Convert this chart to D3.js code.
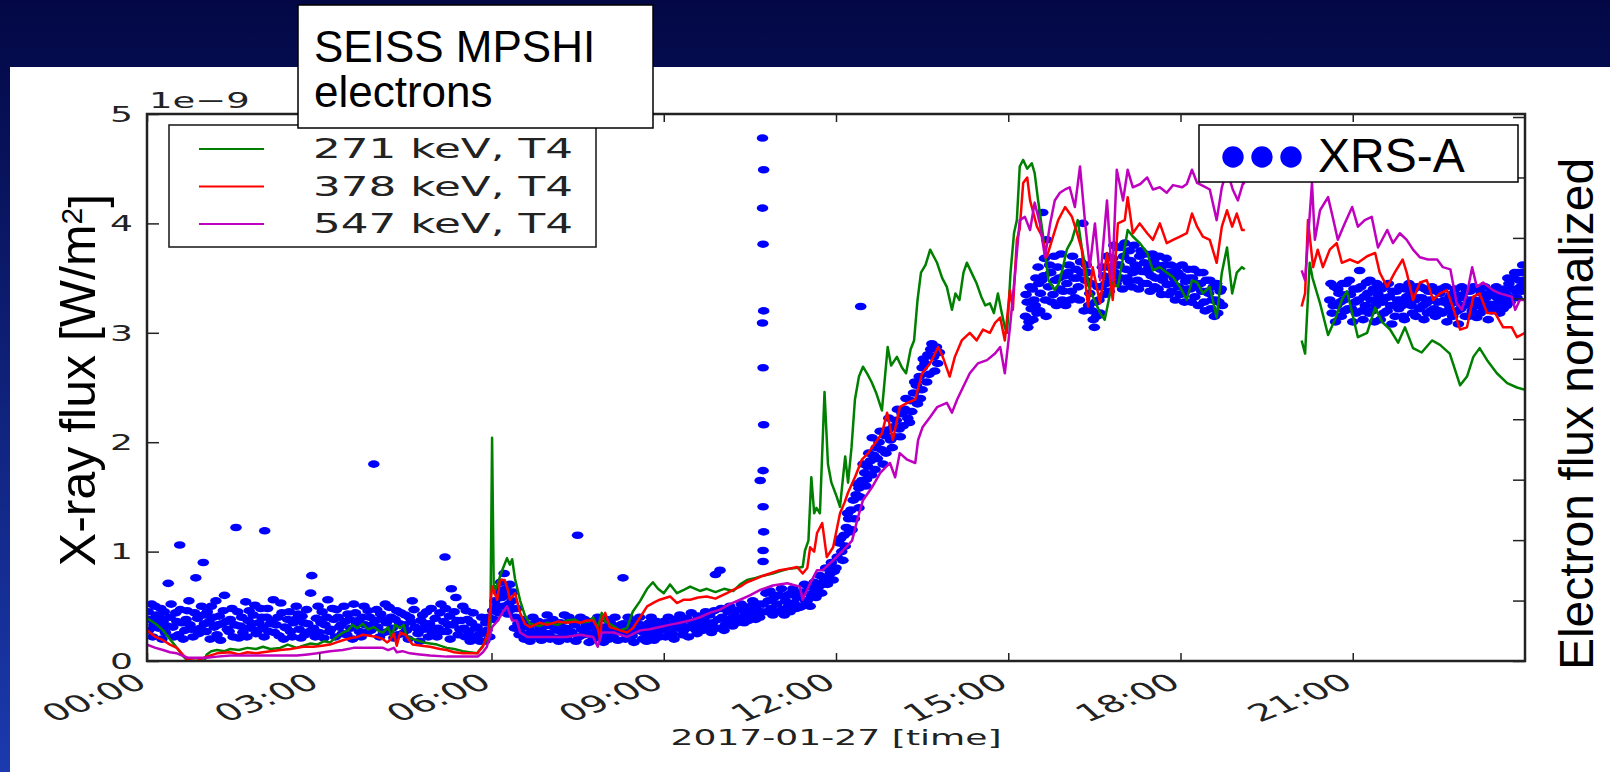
<!DOCTYPE html>
<html>
<head>
<meta charset="utf-8">
<script src="https://cdn.jsdelivr.net/npm/d3@7/dist/d3.min.js"></script>
<style>
  html, body { margin: 0; padding: 0; overflow: hidden; background: #fff; }
  svg { display: block; }
  .mpl { font-family: "DejaVu Sans", sans-serif; fill: #222; }
  .slide { font-family: "Liberation Sans", Arial, sans-serif; fill: #000; }
</style>
</head>
<body>
<div id="graf"></div>
<script>
// ---- data (hours since 00:00, flux in 1e-9 W/m2) ----
const xTicks = [0, 3, 6, 9, 12, 15, 18, 21];
const xTickLabels = ["00:00", "03:00", "06:00", "09:00", "12:00", "15:00", "18:00", "21:00"];
const yTicks = [0, 1, 2, 3, 4, 5];
const rightTicks = [0, 1, 2, 3, 4, 5, 6, 7, 8, 9];

const seriesNames = ["271 keV, T4", "378 keV, T4", "547 keV, T4"];
const seriesColors = ["#008000", "#ff0000", "#bf00bf"];

const green271 = [[0.00,0.39],[0.15,0.34],[0.28,0.28],[0.40,0.20],[0.52,0.12],[0.62,0.05],[0.71,0.0],[0.87,0.0],[1.0,0.0],[1.04,0.06],[1.12,0.09],[1.22,0.10],[1.35,0.09],[1.45,0.11],[1.6,0.10],[1.75,0.12],[1.9,0.11],[2.02,0.13],[2.15,0.11],[2.32,0.12],[2.45,0.15],[2.61,0.12],[2.72,0.14],[2.85,0.16],[2.96,0.15],[3.08,0.18],[3.19,0.17],[3.3,0.22],[3.41,0.26],[3.5,0.28],[3.58,0.33],[3.66,0.30],[3.76,0.34],[3.85,0.29],[3.95,0.31],[4.05,0.27],[4.11,0.26],[4.2,0.31],[4.26,0.22],[4.32,0.33],[4.41,0.30],[4.47,0.33],[4.52,0.23],[4.58,0.21],[4.7,0.19],[4.82,0.17],[4.93,0.16],[5.05,0.15],[5.22,0.12],[5.35,0.11],[5.5,0.09],[5.62,0.08],[5.75,0.07],[5.85,0.14],[5.92,0.20],[5.98,0.30],[6.01,2.04],[6.04,0.62],[6.1,0.70],[6.18,0.82],[6.27,0.94],[6.32,0.88],[6.36,0.93],[6.41,0.75],[6.5,0.55],[6.58,0.42],[6.67,0.34],[6.84,0.32],[6.97,0.35],[7.15,0.33],[7.31,0.37],[7.45,0.38],[7.54,0.35],[7.7,0.36],[7.77,0.40],[7.85,0.30],[7.92,0.44],[7.98,0.36],[8.06,0.34],[8.24,0.28],[8.36,0.30],[8.46,0.45],[8.59,0.55],[8.71,0.66],[8.81,0.72],[8.9,0.66],[9.0,0.62],[9.11,0.70],[9.23,0.62],[9.35,0.65],[9.46,0.68],[9.63,0.64],[9.75,0.66],[9.9,0.63],[10.05,0.66],[10.21,0.64],[10.33,0.70],[10.45,0.74],[10.6,0.76],[10.73,0.78],[10.9,0.80],[11.02,0.82],[11.15,0.84],[11.3,0.85],[11.42,0.86],[11.46,1.01],[11.52,1.10],[11.57,1.68],[11.62,1.35],[11.66,1.40],[11.72,1.35],[11.8,2.46],[11.86,1.80],[11.92,1.63],[12.0,1.52],[12.07,1.41],[12.16,1.87],[12.21,1.63],[12.27,1.95],[12.33,2.39],[12.4,2.6],[12.47,2.69],[12.55,2.62],[12.62,2.55],[12.7,2.45],[12.8,2.29],[12.9,2.87],[12.96,2.70],[13.06,2.78],[13.15,2.68],[13.22,2.63],[13.3,2.85],[13.36,2.93],[13.42,3.30],[13.48,3.55],[13.56,3.62],[13.64,3.76],[13.7,3.70],[13.76,3.64],[13.85,3.5],[13.93,3.42],[14.02,3.21],[14.08,3.36],[14.15,3.30],[14.22,3.55],[14.28,3.64],[14.36,3.55],[14.45,3.45],[14.53,3.33],[14.6,3.25],[14.68,3.27],[14.75,3.18],[14.82,3.36],[14.88,3.20],[14.94,3.05],[14.98,3.00],[15.04,3.55],[15.1,3.91],[15.15,4.03],[15.2,4.52],[15.26,4.58],[15.33,4.50],[15.41,4.55],[15.46,4.46],[15.52,4.21],[15.6,3.91],[15.7,3.48],[15.81,3.39],[15.88,3.45],[15.94,3.57],[16.02,3.76],[16.11,3.85],[16.21,4.03],[16.28,3.78],[16.36,3.55],[16.42,3.39],[16.5,3.30],[16.6,3.18],[16.68,3.12],[16.75,3.30],[16.81,3.46],[16.91,3.42],[17.0,3.69],[17.08,3.94],[17.17,3.88],[17.29,3.82],[17.42,3.73],[17.52,3.57],[17.64,3.60],[17.76,3.55],[17.87,3.51],[17.99,3.42],[18.11,3.30],[18.2,3.48],[18.29,3.46],[18.39,3.36],[18.51,3.42],[18.63,3.14],[18.72,3.55],[18.81,3.78],[18.9,3.36],[18.98,3.55],[19.07,3.60],[19.12,3.58],null,[20.11,2.93],[20.17,2.81],[20.25,3.64],[20.3,3.5],[20.43,3.27],[20.57,2.98],[20.69,3.12],[20.81,3.30],[20.9,3.38],[20.99,3.18],[21.09,2.96],[21.25,3.0],[21.39,3.23],[21.51,3.10],[21.65,3.03],[21.79,2.91],[21.91,3.05],[22.05,2.86],[22.2,2.82],[22.38,2.93],[22.52,2.89],[22.69,2.81],[22.87,2.52],[22.99,2.60],[23.1,2.78],[23.21,2.86],[23.34,2.75],[23.51,2.63],[23.69,2.54],[23.86,2.50],[24.0,2.48]];

const red378 = [[0.0,0.28],[0.15,0.22],[0.28,0.19],[0.4,0.15],[0.52,0.12],[0.62,0.06],[0.71,0.01],[0.87,0.0],[1.04,0.04],[1.22,0.07],[1.45,0.08],[1.6,0.06],[1.75,0.08],[1.9,0.07],[2.02,0.08],[2.15,0.09],[2.32,0.10],[2.5,0.11],[2.72,0.13],[2.9,0.13],[3.05,0.14],[3.19,0.15],[3.3,0.17],[3.41,0.19],[3.55,0.21],[3.66,0.22],[3.76,0.24],[3.88,0.23],[4.0,0.22],[4.11,0.20],[4.18,0.17],[4.23,0.19],[4.3,0.25],[4.35,0.14],[4.41,0.26],[4.5,0.24],[4.58,0.18],[4.63,0.15],[4.78,0.14],[4.93,0.13],[5.1,0.11],[5.22,0.10],[5.35,0.08],[5.5,0.07],[5.62,0.07],[5.75,0.07],[5.85,0.13],[5.94,0.26],[6.01,0.68],[6.1,0.56],[6.15,0.74],[6.23,0.74],[6.28,0.66],[6.32,0.56],[6.41,0.62],[6.5,0.44],[6.58,0.34],[6.67,0.31],[6.84,0.35],[6.97,0.33],[7.15,0.36],[7.31,0.35],[7.45,0.36],[7.54,0.35],[7.66,0.37],[7.77,0.37],[7.85,0.30],[7.89,0.19],[7.92,0.38],[7.98,0.44],[8.06,0.31],[8.24,0.28],[8.36,0.26],[8.46,0.30],[8.59,0.40],[8.71,0.50],[8.85,0.54],[8.93,0.56],[9.11,0.59],[9.23,0.53],[9.35,0.56],[9.46,0.56],[9.6,0.58],[9.75,0.59],[9.9,0.57],[9.98,0.59],[10.1,0.62],[10.21,0.65],[10.33,0.68],[10.45,0.72],[10.6,0.75],[10.68,0.77],[10.85,0.80],[11.02,0.83],[11.15,0.84],[11.32,0.86],[11.42,0.80],[11.5,0.85],[11.55,1.04],[11.62,1.00],[11.67,1.17],[11.76,1.26],[11.84,0.95],[11.95,1.04],[12.07,1.35],[12.15,1.45],[12.21,1.54],[12.33,1.68],[12.45,1.84],[12.56,1.90],[12.68,1.99],[12.8,2.08],[12.89,2.27],[12.99,2.02],[13.11,2.32],[13.24,2.36],[13.38,2.39],[13.5,2.63],[13.64,2.72],[13.78,2.87],[13.86,2.78],[13.98,2.60],[14.07,2.78],[14.19,2.93],[14.33,3.00],[14.45,2.93],[14.56,3.03],[14.68,3.00],[14.77,3.09],[14.86,3.14],[14.94,2.93],[15.03,3.39],[15.08,3.21],[15.15,3.85],[15.2,3.95],[15.26,4.37],[15.33,4.42],[15.38,4.21],[15.5,3.97],[15.59,3.88],[15.67,3.69],[15.78,3.88],[15.87,4.03],[15.99,4.15],[16.11,4.06],[16.2,3.91],[16.28,3.76],[16.39,3.24],[16.47,3.60],[16.6,3.27],[16.72,3.73],[16.82,3.30],[16.91,4.00],[17.03,4.03],[17.08,4.24],[17.17,3.91],[17.29,4.00],[17.42,3.91],[17.52,3.85],[17.64,4.00],[17.76,3.82],[17.87,3.85],[17.99,3.88],[18.11,3.91],[18.2,4.09],[18.29,3.97],[18.39,3.88],[18.51,3.85],[18.63,3.64],[18.72,3.97],[18.81,4.12],[18.9,3.97],[18.98,4.09],[19.07,3.94],[19.12,3.94],null,[20.11,3.24],[20.17,3.36],[20.22,4.03],[20.31,3.60],[20.39,3.76],[20.48,3.60],[20.6,3.76],[20.72,3.82],[20.81,3.64],[20.95,3.67],[21.09,3.64],[21.25,3.70],[21.39,3.73],[21.47,3.55],[21.6,3.42],[21.73,3.55],[21.87,3.67],[21.94,3.55],[22.05,3.30],[22.17,3.46],[22.29,3.48],[22.4,3.30],[22.52,3.36],[22.64,3.39],[22.74,3.24],[22.87,3.03],[22.99,3.05],[23.1,3.33],[23.21,3.36],[23.34,3.18],[23.48,3.18],[23.62,3.05],[23.77,3.05],[23.86,2.96],[24.0,3.0]];

const magenta547 = [[0.0,0.15],[0.15,0.12],[0.28,0.10],[0.4,0.08],[0.52,0.07],[0.71,0.03],[0.87,0.03],[1.04,0.03],[1.22,0.04],[1.45,0.05],[1.7,0.05],[2.02,0.05],[2.3,0.05],[2.61,0.05],[2.8,0.06],[2.96,0.07],[3.19,0.09],[3.41,0.10],[3.6,0.12],[3.76,0.12],[4.0,0.12],[4.11,0.12],[4.2,0.10],[4.3,0.12],[4.35,0.08],[4.45,0.09],[4.58,0.07],[4.75,0.06],[4.93,0.05],[5.22,0.04],[5.5,0.04],[5.76,0.04],[5.85,0.08],[5.92,0.13],[6.01,0.31],[6.11,0.37],[6.2,0.45],[6.27,0.50],[6.36,0.37],[6.44,0.37],[6.5,0.26],[6.62,0.22],[6.8,0.22],[6.97,0.22],[7.15,0.22],[7.31,0.22],[7.54,0.24],[7.77,0.22],[7.85,0.13],[7.92,0.26],[8.12,0.26],[8.36,0.22],[8.59,0.28],[8.75,0.29],[8.93,0.31],[9.1,0.33],[9.28,0.35],[9.45,0.37],[9.63,0.40],[9.8,0.44],[9.98,0.47],[10.15,0.52],[10.33,0.56],[10.5,0.60],[10.68,0.65],[10.9,0.69],[11.15,0.71],[11.37,0.68],[11.42,0.56],[11.55,0.71],[11.67,0.83],[11.77,0.83],[11.95,0.92],[12.12,1.01],[12.28,1.10],[12.37,1.29],[12.47,1.47],[12.63,1.59],[12.77,1.72],[12.94,1.81],[13.03,1.68],[13.11,1.90],[13.24,1.84],[13.38,1.81],[13.43,2.02],[13.51,2.14],[13.64,2.23],[13.76,2.32],[13.93,2.36],[14.02,2.27],[14.11,2.39],[14.21,2.50],[14.33,2.63],[14.47,2.72],[14.63,2.75],[14.77,2.81],[14.86,2.87],[14.94,2.63],[15.03,3.05],[15.12,3.55],[15.2,4.03],[15.29,4.06],[15.38,3.94],[15.46,4.19],[15.55,4.00],[15.64,3.69],[15.73,4.00],[15.81,4.21],[15.9,4.28],[15.99,4.31],[16.07,4.33],[16.16,4.15],[16.25,4.52],[16.34,4.00],[16.42,3.60],[16.51,4.00],[16.6,3.48],[16.72,4.21],[16.81,3.48],[16.89,4.49],[17.0,4.21],[17.08,4.49],[17.17,4.33],[17.3,4.36],[17.42,4.42],[17.52,4.31],[17.64,4.33],[17.76,4.28],[17.87,4.35],[18.03,4.33],[18.11,4.36],[18.2,4.49],[18.29,4.37],[18.4,4.34],[18.51,4.31],[18.63,4.03],[18.72,4.33],[18.81,4.49],[18.91,4.31],[19.0,4.21],[19.09,4.37],[19.12,4.36],null,[20.11,3.57],[20.17,3.48],[20.29,4.37],[20.34,3.85],[20.43,4.12],[20.57,4.24],[20.65,4.06],[20.74,3.85],[20.86,4.00],[20.99,4.15],[21.09,3.97],[21.21,4.03],[21.33,4.06],[21.44,3.78],[21.6,3.94],[21.7,3.82],[21.82,3.91],[21.94,3.85],[22.05,3.76],[22.17,3.69],[22.31,3.67],[22.47,3.67],[22.57,3.60],[22.7,3.58],[22.81,3.27],[22.9,3.21],[22.99,3.36],[23.08,3.60],[23.16,3.42],[23.27,3.46],[23.44,3.39],[23.56,3.36],[23.77,3.33],[23.83,3.21],[23.91,3.30],[24.0,3.30]];

// XRS-A points, split by part of the day
const xrsNight = [[0.02,0.45],[0.03,0.28],[0.05,0.38],[0.08,0.52],[0.1,0.22],[0.12,0.33],[0.14,0.50],[0.16,0.42],[0.18,0.35],[0.2,0.30],[0.22,0.40],[0.24,0.48],[0.26,0.20],[0.28,0.36],[0.3,0.45],[0.32,0.26],[0.35,0.32],[0.37,0.71],[0.4,0.40],[0.42,0.52],[0.45,0.31],[0.47,0.22],[0.5,0.44],[0.52,0.36],[0.55,0.24],[0.57,1.06],[0.58,0.47],[0.6,0.35],[0.63,0.20],[0.66,0.28],[0.68,0.38],[0.7,0.46],[0.73,0.55],[0.75,0.33],[0.78,0.29],[0.8,0.22],[0.83,0.44],[0.85,0.76],[0.88,0.39],[0.9,0.25],[0.93,0.30],[0.95,0.50],[0.98,0.90],[0.99,0.42],[1.0,0.34],[1.03,0.27],[1.05,0.45],[1.08,0.36],[1.1,0.20],[1.12,0.50],[1.15,0.40],[1.17,0.31],[1.2,0.55],[1.22,0.24],[1.24,0.33],[1.26,0.41],[1.28,0.19],[1.3,0.34],[1.33,0.46],[1.35,0.60],[1.38,0.36],[1.4,0.29],[1.43,0.27],[1.45,0.38],[1.48,0.48],[1.5,0.22],[1.53,0.33],[1.55,1.22],[1.58,0.45],[1.6,0.21],[1.62,0.32],[1.65,0.40],[1.67,0.26],[1.7,0.30],[1.72,0.54],[1.74,0.22],[1.76,0.37],[1.78,0.46],[1.8,0.30],[1.83,0.34],[1.85,0.42],[1.88,0.51],[1.9,0.25],[1.93,0.28],[1.95,0.35],[1.98,0.48],[2.0,0.40],[2.02,0.31],[2.04,0.22],[2.05,1.19],[2.08,0.40],[2.1,0.48],[2.12,0.27],[2.15,0.34],[2.17,0.36],[2.2,0.56],[2.22,0.26],[2.25,0.33],[2.28,0.40],[2.3,0.23],[2.33,0.53],[2.35,0.44],[2.38,0.20],[2.4,0.31],[2.43,0.30],[2.45,0.38],[2.48,0.45],[2.5,0.27],[2.53,0.22],[2.55,0.35],[2.58,0.38],[2.6,0.50],[2.63,0.43],[2.65,0.29],[2.68,0.21],[2.7,0.41],[2.73,0.35],[2.75,0.24],[2.78,0.47],[2.8,0.34],[2.83,0.27],[2.85,0.62],[2.87,0.78],[2.9,0.30],[2.93,0.22],[2.95,0.39],[2.98,0.50],[3.0,0.26],[3.03,0.35],[3.05,0.45],[3.08,0.21],[3.1,0.33],[3.13,0.40],[3.15,0.56],[3.18,0.27],[3.2,0.29],[3.23,0.48],[3.25,0.38],[3.28,0.22],[3.3,0.47],[3.33,0.40],[3.35,0.31],[3.38,0.33],[3.4,0.25],[3.43,0.50],[3.45,0.36],[3.48,0.24],[3.5,0.43],[3.53,0.38],[3.55,0.30],[3.58,0.20],[3.6,0.52],[3.63,0.44],[3.65,0.34],[3.68,0.37],[3.7,0.27],[3.73,0.22],[3.75,0.40],[3.78,0.50],[3.8,0.33],[3.83,0.26],[3.85,0.46],[3.88,0.40],[3.9,0.28],[3.93,0.33],[3.95,1.80],[3.97,0.37],[4.0,0.47],[4.02,0.31],[4.05,0.22],[4.07,0.43],[4.1,0.38],[4.12,0.26],[4.15,0.52],[4.17,0.35],[4.2,0.27],[4.22,0.49],[4.25,0.40],[4.27,0.30],[4.3,0.21],[4.32,0.38],[4.35,0.46],[4.37,0.24],[4.4,0.34],[4.42,0.44],[4.45,0.25],[4.47,0.33],[4.5,0.42],[4.52,0.28],[4.55,0.20],[4.57,0.40],[4.6,0.36],[4.62,0.55],[4.65,0.47],[4.67,0.31],[4.7,0.30],[4.72,0.25],[4.75,0.18],[4.77,0.37],[4.8,0.42],[4.82,0.29],[4.85,0.34],[4.87,0.45],[4.9,0.22],[4.92,0.34],[4.95,0.48],[4.97,0.26],[5.0,0.30],[5.02,0.39],[5.05,0.22],[5.07,0.30],[5.1,0.44],[5.12,0.52],[5.15,0.27],[5.17,0.36],[5.19,0.95],[5.2,0.48],[5.22,0.27],[5.25,0.33],[5.27,0.41],[5.28,0.20],[5.3,0.66],[5.33,0.33],[5.35,0.45],[5.38,0.58],[5.4,0.37],[5.42,0.24],[5.45,0.29],[5.47,0.37],[5.5,0.50],[5.52,0.30],[5.54,0.22],[5.56,0.46],[5.58,0.38],[5.6,0.27],[5.63,0.18],[5.65,0.35],[5.68,0.44],[5.7,0.22],[5.72,0.30],[5.75,0.31],[5.78,0.24],[5.8,0.18],[5.83,0.40],[5.85,0.26],[5.88,0.18],[5.9,0.35],[5.92,0.28],[5.95,0.40],[5.97,0.22]];

const xrsMorning = [[6.02,0.46],[6.04,0.38],[6.06,0.55],[6.08,0.66],[6.1,0.50],[6.12,0.44],[6.14,0.62],[6.16,0.72],[6.18,0.58],[6.2,0.50],[6.22,0.80],[6.24,0.60],[6.25,0.66],[6.28,0.43],[6.3,0.52],[6.32,0.70],[6.34,0.47],[6.36,0.55],[6.38,0.63],[6.4,0.30],[6.42,0.40],[6.44,0.48],[6.46,0.34],[6.48,0.24],[6.5,0.29],[6.52,0.38],[6.55,0.36],[6.57,0.20],[6.6,0.24],[6.62,0.33],[6.65,0.31],[6.67,0.18],[6.7,0.27],[6.72,0.40],[6.75,0.34],[6.77,0.25],[6.8,0.22],[6.82,0.36],[6.85,0.30],[6.87,0.19],[6.9,0.26],[6.92,0.32],[6.95,0.35],[6.97,0.42],[7.0,0.25],[7.02,0.20],[7.05,0.32],[7.07,0.38],[7.1,0.21],[7.12,0.30],[7.15,0.28],[7.17,0.18],[7.2,0.35],[7.22,0.28],[7.25,0.24],[7.27,0.42],[7.3,0.30],[7.32,0.20],[7.35,0.40],[7.37,0.27],[7.4,0.26],[7.42,0.36],[7.45,0.33],[7.47,0.18],[7.5,1.15],[7.52,0.22],[7.55,0.40],[7.57,0.29],[7.6,0.24],[7.62,0.38],[7.65,0.33],[7.67,0.25],[7.7,0.17],[7.72,0.31],[7.75,0.36],[7.77,0.20],[7.8,0.25],[7.82,0.34],[7.85,0.40],[7.87,0.27],[7.9,0.30],[7.92,0.22],[7.95,0.17],[7.97,0.31],[8.0,0.38],[8.02,0.26],[8.05,0.20],[8.07,0.35],[8.1,0.30],[8.12,0.22],[8.15,0.40],[8.17,0.30],[8.2,0.19],[8.22,0.27],[8.25,0.33],[8.29,0.76],[8.3,0.34],[8.33,0.20],[8.35,0.25],[8.38,0.40],[8.4,0.31],[8.43,0.28],[8.45,0.23],[8.48,0.17],[8.5,0.36],[8.53,0.30],[8.55,0.28],[8.58,0.40],[8.6,0.33],[8.63,0.20],[8.65,0.26],[8.68,0.30],[8.7,0.18],[8.73,0.24],[8.75,0.35],[8.78,0.40],[8.8,0.29],[8.83,0.19],[8.85,0.24],[8.88,0.36],[8.9,0.33],[8.93,0.22],[8.95,0.28],[8.98,0.30],[9.0,0.36],[9.03,0.22],[9.05,0.28],[9.08,0.40],[9.1,0.33],[9.13,0.29],[9.15,0.25],[9.18,0.20],[9.2,0.38],[9.23,0.33],[9.25,0.30],[9.28,0.42],[9.3,0.35],[9.33,0.24],[9.35,0.28],[9.38,0.31],[9.4,0.39],[9.43,0.22],[9.45,0.31],[9.48,0.44],[9.5,0.36],[9.53,0.34],[9.55,0.29],[9.58,0.25],[9.6,0.41],[9.63,0.38],[9.65,0.33],[9.68,0.28],[9.7,0.38],[9.73,0.45],[9.75,0.30],[9.78,0.33],[9.8,0.42],[9.83,0.26],[9.85,0.35],[9.88,0.46],[9.9,0.79],[9.93,0.30],[9.95,0.38],[9.98,0.83],[10.0,0.48],[10.02,0.40],[10.05,0.28],[10.07,0.33],[10.1,0.38],[10.12,0.45],[10.15,0.50],[10.17,0.38],[10.2,0.32],[10.22,0.42],[10.25,0.46],[10.27,0.35],[10.3,0.38],[10.32,0.47],[10.35,0.52],[10.37,0.40],[10.4,0.35],[10.42,0.44],[10.45,0.48],[10.47,0.37],[10.5,0.40],[10.52,0.50],[10.55,0.55],[10.57,0.43],[10.6,0.38],[10.62,0.47],[10.65,0.52],[10.67,0.40],[10.7,0.45],[10.73,0.52],[10.73,0.91],[10.73,1.01],[10.74,1.18],[10.73,1.41],[10.68,1.65],[10.73,1.74],[10.74,2.16],[10.73,2.68],[10.72,3.09],[10.74,3.20],[10.73,3.81],[10.72,4.14],[10.74,4.49],[10.72,4.78],[10.78,0.62],[10.8,0.45],[10.82,0.55],[10.85,0.64],[10.87,0.48],[10.9,0.42],[10.92,0.58],[10.95,0.60],[10.97,0.52],[11.0,0.45],[11.02,0.60],[11.05,0.66],[11.07,0.47],[11.1,0.42],[11.12,0.55],[11.15,0.60],[11.17,0.50],[11.2,0.45],[11.22,0.62],[11.25,0.66],[11.27,0.53],[11.3,0.48],[11.32,0.58],[11.35,0.62],[11.37,0.49],[11.4,0.50],[11.42,0.63],[11.45,0.70],[11.47,0.55],[11.5,0.55],[11.52,0.68],[11.55,0.50],[11.57,0.60],[11.6,0.62],[11.62,0.72],[11.65,0.58],[11.67,0.65],[11.7,0.68],[11.72,0.78],[11.75,0.62],[11.77,0.70],[11.8,0.74],[11.82,0.85],[11.85,0.70],[11.87,0.76],[11.9,0.80],[11.92,0.90],[11.95,0.74],[11.97,0.82]];

const xrsAfternoon = [[12.0,0.85],[12.02,0.95],[12.05,1.08],[12.08,1.12],[12.1,1.00],[12.12,0.92],[12.14,1.15],[12.16,1.05],[12.18,1.22],[12.2,1.35],[12.22,1.30],[12.24,1.18],[12.26,1.38],[12.28,1.20],[12.3,1.47],[12.32,1.30],[12.35,1.52],[12.37,1.62],[12.4,1.58],[12.4,1.40],[12.42,1.50],[12.43,3.24],[12.45,1.65],[12.47,1.80],[12.5,1.72],[12.52,1.60],[12.53,1.66],[12.55,1.78],[12.57,1.90],[12.6,1.83],[12.62,1.70],[12.63,2.04],[12.66,1.88],[12.68,1.75],[12.7,1.95],[12.72,1.85],[12.75,2.00],[12.77,2.10],[12.8,1.93],[12.82,1.80],[12.85,2.06],[12.87,1.90],[12.9,2.11],[12.92,2.22],[12.95,2.02],[12.98,1.95],[13.0,2.14],[13.02,2.05],[13.05,2.20],[13.07,2.30],[13.1,2.12],[13.12,2.05],[13.15,2.26],[13.17,2.15],[13.2,2.30],[13.22,2.40],[13.25,2.22],[13.28,2.18],[13.3,2.38],[13.32,2.28],[13.35,2.45],[13.37,2.55],[13.4,2.52],[13.42,2.35],[13.45,2.60],[13.47,2.40],[13.5,2.68],[13.5,2.48],[13.52,2.76],[13.55,2.72],[13.58,2.55],[13.6,2.80],[13.62,2.62],[13.65,2.85],[13.67,2.90],[13.7,2.78],[13.72,2.65],[13.75,2.87],[13.77,2.72],[13.8,2.82],[15.3,3.15],[15.31,3.35],[15.33,3.28],[15.34,3.05],[15.36,3.10],[15.38,3.42],[15.4,3.22],[15.42,3.40],[15.43,3.12],[15.45,3.30],[15.47,3.25],[15.48,3.50],[15.5,3.18],[15.52,3.60],[15.53,3.45],[15.55,3.20],[15.56,3.36],[15.58,3.48],[15.6,4.10],[15.62,3.52],[15.63,3.68],[15.65,3.30],[15.66,3.15],[15.67,3.85],[15.7,3.42],[15.72,3.62],[15.74,3.55],[15.76,3.28],[15.78,3.35],[15.8,3.70],[15.82,3.48],[15.84,3.25],[15.86,3.60],[15.88,3.50],[15.9,3.40],[15.92,3.72],[15.94,3.30],[15.96,3.38],[15.98,3.52],[16.0,3.25],[16.02,3.45],[16.04,3.55],[16.06,3.62],[16.08,3.30],[16.1,3.38],[16.12,3.70],[16.14,3.50],[16.16,3.32],[16.18,3.58],[16.2,3.50],[16.22,3.42],[16.24,3.30],[16.26,3.65],[16.28,3.55],[16.3,4.00],[16.32,3.20],[16.34,3.48],[16.36,3.62],[16.38,3.55],[16.4,3.25],[16.42,3.36],[16.44,3.45],[16.46,3.20],[16.48,3.12],[16.5,3.05],[16.52,3.28],[16.54,3.15],[16.56,3.42],[16.58,3.30],[16.6,3.18],[16.62,3.42],[16.64,3.60],[16.66,3.52],[16.68,3.35],[16.7,3.45],[16.72,3.70],[16.74,3.60],[16.76,3.38],[16.78,3.50],[16.8,3.52],[16.82,3.68],[16.84,3.80],[16.86,3.55],[16.88,3.45],[16.89,3.78],[16.91,3.62],[16.93,3.62],[16.95,3.78],[16.97,3.50],[16.99,3.40],[17.01,3.70],[17.03,3.82],[17.05,3.58],[17.07,3.50],[17.09,3.46],[17.11,3.75],[17.13,3.66],[17.15,3.42],[17.17,3.55],[17.19,3.80],[17.21,3.62],[17.23,3.60],[17.25,3.48],[17.27,3.40],[17.29,3.70],[17.31,3.75],[17.33,3.56],[17.35,3.45],[17.37,3.64],[17.39,3.72],[17.41,3.45],[17.43,3.55],[17.45,3.60],[17.47,3.38],[17.49,3.52],[17.51,3.72],[17.53,3.66],[17.55,3.42],[17.57,3.50],[17.59,3.62],[17.61,3.40],[17.63,3.70],[17.65,3.58],[17.67,3.35],[17.69,3.48],[17.71,3.52],[17.73,3.62],[17.75,3.68],[17.77,3.44],[17.79,3.35],[17.81,3.55],[17.83,3.62],[17.85,3.38],[17.87,3.45],[17.89,3.50],[17.91,3.30],[17.93,3.60],[17.95,3.55],[17.97,3.42],[17.99,3.35],[18.01,3.52],[18.03,3.62],[18.05,3.36],[18.07,3.28],[18.09,3.47],[18.11,3.40],[18.13,3.58],[18.15,3.50],[18.17,3.40],[18.19,3.28],[18.21,3.50],[18.23,3.58],[18.25,3.33],[18.27,3.42],[18.29,3.45],[18.31,3.25],[18.33,3.55],[18.35,3.45],[18.37,3.38],[18.39,3.55],[18.41,3.28],[18.43,3.20],[18.45,3.48],[18.47,3.38],[18.49,3.36],[18.51,3.48],[18.53,3.22],[18.55,3.30],[18.57,3.42],[18.59,3.15],[18.61,3.30],[18.63,3.45],[18.65,3.18],[18.67,3.28],[18.69,3.38],[18.71,3.40],[18.73,3.25]];

const xrsEvening = [[20.6,3.30],[20.62,3.45],[20.64,3.18],[20.66,3.25],[20.68,3.42],[20.7,3.10],[20.72,3.25],[20.74,3.40],[20.76,3.36],[20.78,3.28],[20.8,3.15],[20.82,3.45],[20.84,3.30],[20.86,3.20],[20.88,3.45],[20.9,3.35],[20.92,3.22],[20.94,3.48],[20.96,3.35],[20.98,3.22],[21.0,3.10],[21.02,3.40],[21.04,3.28],[21.06,3.18],[21.08,3.40],[21.1,3.30],[21.12,3.57],[21.14,3.42],[21.16,3.20],[21.18,3.12],[21.2,3.33],[21.22,3.25],[21.24,3.46],[21.26,3.36],[21.28,3.18],[21.3,3.48],[21.32,3.30],[21.34,3.20],[21.36,3.40],[21.38,3.10],[21.4,3.25],[21.42,3.45],[21.44,3.35],[21.46,3.30],[21.48,3.12],[21.5,3.40],[21.52,3.28],[21.54,3.18],[21.56,3.42],[21.58,3.32],[21.6,3.20],[21.62,3.45],[21.64,3.33],[21.66,3.25],[21.68,3.08],[21.7,3.38],[21.72,3.25],[21.74,3.15],[21.76,3.38],[21.78,3.30],[21.8,3.22],[21.82,3.42],[21.84,3.30],[21.86,3.25],[21.88,3.15],[21.9,3.12],[21.92,3.40],[21.94,3.33],[21.96,3.27],[21.98,3.45],[22.0,3.35],[22.02,3.25],[22.04,3.18],[22.06,3.40],[22.08,3.30],[22.1,3.15],[22.12,3.42],[22.14,3.32],[22.16,3.22],[22.18,3.42],[22.2,3.32],[22.22,3.25],[22.24,3.12],[22.26,3.40],[22.28,3.27],[22.3,3.18],[22.32,3.38],[22.34,3.30],[22.36,3.20],[22.38,3.42],[22.4,3.30],[22.42,3.22],[22.44,3.15],[22.46,3.38],[22.48,3.28],[22.5,3.20],[22.52,3.36],[22.54,3.40],[22.56,3.18],[22.58,3.28],[22.6,3.30],[22.62,3.42],[22.64,3.10],[22.66,3.20],[22.68,3.25],[22.7,3.33],[22.72,3.35],[22.74,3.15],[22.76,3.18],[22.78,3.40],[22.8,3.28],[22.82,3.20],[22.84,3.08],[22.86,3.34],[22.88,3.22],[22.9,3.42],[22.92,3.32],[22.94,3.25],[22.96,3.15],[22.98,3.38],[23.0,3.26],[23.02,3.15],[23.04,3.38],[23.06,3.30],[23.08,3.20],[23.1,3.42],[23.12,3.30],[23.14,3.25],[23.16,3.14],[23.18,3.40],[23.2,3.28],[23.22,3.18],[23.24,3.36],[23.26,3.30],[23.28,3.22],[23.3,3.42],[23.32,3.32],[23.34,3.25],[23.36,3.12],[23.38,3.36],[23.4,3.26],[23.42,3.20],[23.44,3.38],[23.46,3.34],[23.48,3.24],[23.5,3.42],[23.52,3.32],[23.54,3.28],[23.56,3.18],[23.58,3.38],[23.6,3.30],[23.62,3.22],[23.64,3.40],[23.66,3.35],[23.68,3.25],[23.7,3.50],[23.72,3.45],[23.74,3.28],[23.76,3.32],[23.78,3.40],[23.8,3.50],[23.82,3.55],[23.84,3.38],[23.86,3.32],[23.88,3.55],[23.9,3.48],[23.92,3.42],[23.94,3.38],[23.96,3.62],[23.97,3.55],[23.98,3.48]];

// ---- layout ----
const W = 1610, H = 772;
const plot = { left: 147, right: 1525, top: 114, bottom: 661 };
const sx = 1.68; // the matplotlib figure was stretched sideways on the slide

const svg = d3.select("#graf").append("svg").attr("width", W).attr("height", H);

const defs = svg.append("defs");
const grad = defs.append("linearGradient").attr("id", "bg").attr("x1", 0).attr("y1", 0).attr("x2", 0).attr("y2", 1);
grad.append("stop").attr("offset", "0%").attr("stop-color", "#030845");
grad.append("stop").attr("offset", "100%").attr("stop-color", "#1b3aae");
defs.append("clipPath").attr("id", "clip")
  .append("rect")
  .attr("x", plot.left).attr("y", plot.top)
  .attr("width", plot.right - plot.left).attr("height", plot.bottom - plot.top);

svg.append("rect").attr("width", W).attr("height", H).attr("fill", "url(#bg)");
svg.append("rect").attr("x", 10).attr("y", 67).attr("width", W - 10).attr("height", H - 67).attr("fill", "#fff");

const x = d3.scaleLinear().domain([0, 24]).range([plot.left, plot.right]);
const y = d3.scaleLinear().domain([0, 5]).range([plot.bottom, plot.top]);
const y2 = d3.scaleLinear().domain([0, 9.05]).range([plot.bottom, plot.top]);

// XRS-A dots
const dots = svg.append("g").attr("clip-path", "url(#clip)");
[xrsNight, xrsMorning, xrsAfternoon, xrsEvening].forEach(part => {
  dots.selectAll(null)
    .data(part)
    .enter()
    .append("ellipse")
    .attr("cx", d => x(d[0]))
    .attr("cy", d => y(d[1]))
    .attr("rx", 5.8)
    .attr("ry", 3.8)
    .attr("fill", "#0000ff");
});

// electron lines
const line = d3.line()
  .defined(d => d !== null)
  .x(d => x(d[0]))
  .y(d => y(d[1]));

const lines = svg.append("g").attr("clip-path", "url(#clip)");
[green271, red378, magenta547].forEach((s, i) => {
  lines.append("path")
    .attr("d", line(s))
    .attr("fill", "none")
    .attr("stroke", seriesColors[i])
    .attr("stroke-width", 2.5)
    .attr("stroke-linejoin", "round");
});

// ticks (inward, matplotlib classic)
const tickStyle = g => {
  g.select(".domain").remove();
  g.selectAll("line").attr("stroke", "#222").attr("stroke-width", 1.5);
};
svg.append("g").attr("transform", `translate(0,${plot.bottom})`)
  .call(d3.axisBottom(x).tickValues(xTicks).tickSize(-8).tickFormat(""))
  .call(tickStyle);
svg.append("g").attr("transform", `translate(0,${plot.top})`)
  .call(d3.axisTop(x).tickValues(xTicks).tickSize(-8).tickFormat(""))
  .call(tickStyle);
svg.append("g").attr("transform", `translate(${plot.left},0)`)
  .call(d3.axisLeft(y).tickValues(yTicks).tickSize(-12).tickFormat(""))
  .call(tickStyle);
svg.append("g").attr("transform", `translate(${plot.right},0)`)
  .call(d3.axisRight(y2).tickValues(rightTicks).tickSize(-12).tickFormat(""))
  .call(tickStyle);

svg.append("rect")
  .attr("x", plot.left).attr("y", plot.top)
  .attr("width", plot.right - plot.left).attr("height", plot.bottom - plot.top)
  .attr("fill", "none").attr("stroke", "#222").attr("stroke-width", 2.5);

// tick labels
svg.selectAll(".ylab")
  .data(yTicks)
  .enter()
  .append("text")
  .attr("class", "mpl")
  .attr("transform", d => `translate(133,${y(d)}) scale(${sx},1)`)
  .attr("dy", "0.36em")
  .attr("text-anchor", "end")
  .style("font-size", "21.5px")
  .text(d => d);

svg.append("text")
  .attr("class", "mpl")
  .attr("transform", `translate(149,108) scale(${sx},1)`)
  .style("font-size", "22px")
  .text("1e\u22129");

svg.selectAll(".xlab")
  .data(xTicks)
  .enter()
  .append("text")
  .attr("class", "mpl")
  .attr("transform", d => `translate(${x(d) + 2},${plot.bottom + 25}) scale(${sx},1) rotate(-33)`)
  .attr("text-anchor", "end")
  .style("font-size", "23.5px")
  .text((d, i) => xTickLabels[i]);

svg.append("text")
  .attr("class", "mpl")
  .attr("transform", `translate(${(plot.left + plot.right) / 2},745) scale(${sx},1)`)
  .attr("text-anchor", "middle")
  .style("font-size", "21.5px")
  .text("2017-01-27 [time]");

// electron legend
const leg = svg.append("g");
leg.append("rect")
  .attr("x", 169).attr("y", 125).attr("width", 427).attr("height", 122)
  .attr("fill", "#fff").attr("stroke", "#222").attr("stroke-width", 1.6);
seriesNames.forEach((name, i) => {
  const ly = 149 + i * 37.5;
  leg.append("line")
    .attr("x1", 199).attr("x2", 264).attr("y1", ly).attr("y2", ly)
    .attr("stroke", seriesColors[i]).attr("stroke-width", 2);
  leg.append("text")
    .attr("class", "mpl")
    .attr("transform", `translate(313,${ly}) scale(${sx},1)`)
    .attr("dy", "0.36em")
    .style("font-size", "26px")
    .text(name);
});

// slide annotations
svg.append("rect")
  .attr("x", 298).attr("y", 5).attr("width", 355).attr("height", 123)
  .attr("fill", "#fff").attr("stroke", "#000").attr("stroke-width", 1.5);
svg.append("text").attr("class", "slide").attr("x", 314).attr("y", 62)
  .style("font-size", "44px").text("SEISS MPSHI");
svg.append("text").attr("class", "slide").attr("x", 314).attr("y", 107)
  .style("font-size", "44px").text("electrons");

svg.append("rect")
  .attr("x", 1199).attr("y", 125).attr("width", 319).attr("height", 57)
  .attr("fill", "#fff").attr("stroke", "#000").attr("stroke-width", 1.5);
[1233, 1262, 1291].forEach(cx => {
  svg.append("circle").attr("cx", cx).attr("cy", 157).attr("r", 10.7).attr("fill", "#0000ff");
});
svg.append("text").attr("class", "slide").attr("x", 1318).attr("y", 172)
  .style("font-size", "48px").text("XRS-A");

const ylab = svg.append("text")
  .attr("class", "slide")
  .attr("transform", "translate(95,380) rotate(-90)")
  .attr("text-anchor", "middle")
  .style("font-size", "50px");
ylab.append("tspan").text("X-ray flux [W/m");
ylab.append("tspan").attr("dy", "-0.45em").style("font-size", "30px").text("2");
ylab.append("tspan").attr("dy", "0.45em").text("]");

svg.append("text")
  .attr("class", "slide")
  .attr("transform", "translate(1593,414) rotate(-90)")
  .attr("text-anchor", "middle")
  .style("font-size", "48px")
  .text("Electron flux normalized");
</script>
</body>
</html>
